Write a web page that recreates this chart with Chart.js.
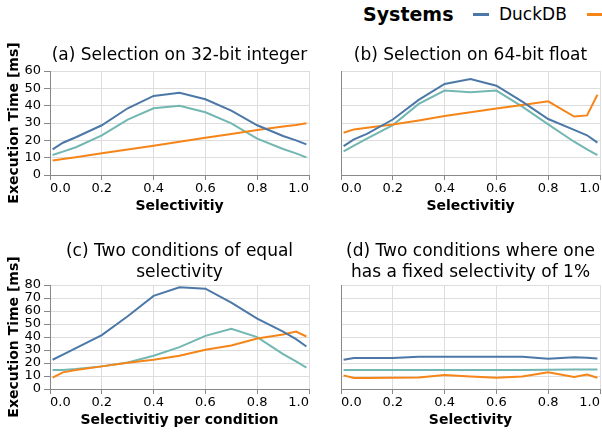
<!DOCTYPE html>
<html>
<head>
<meta charset="utf-8">
<script src="https://cdn.jsdelivr.net/npm/chart.js@4/dist/chart.umd.min.js"></script>
<style>
html, body { margin: 0; padding: 0; background: #fff; overflow: hidden; width: 602px; height: 436px; font-family: "DejaVu Sans", sans-serif; }
canvas { position: absolute; }
.lg { position: absolute; white-space: nowrap; color: #000; }
.sw { position: absolute; height: 3px; width: 16px; }
</style>
</head>
<body>
<div class="lg" style="left:363px; top:0; line-height:29px; font-size:19px; font-weight:bold;">Systems</div>
<div class="sw" style="left:473px; top:13px; background:#4c78a8;"></div>
<div class="lg" style="left:499px; top:0; line-height:29px; font-size:17px;">DuckDB</div>
<div class="sw" style="left:587px; top:13px; background:#f58518;"></div>

<canvas id="a" width="312" height="175" style="left:0; top:40px;"></canvas>
<canvas id="b" width="290" height="175" style="left:312px; top:40px;"></canvas>
<canvas id="c" width="312" height="194" style="left:0; top:235px;"></canvas>
<canvas id="d" width="290" height="194" style="left:312px; top:235px;"></canvas>

<script>
// selectivity values measured on every panel
var selectivity = [0.01, 0.05, 0.1, 0.2, 0.3, 0.4, 0.5, 0.6, 0.7, 0.8, 0.9, 0.95, 0.99];
var xTicks = [0, 0.2, 0.4, 0.6, 0.8, 1.0];
var yTicksTop = [0, 10, 20, 30, 40, 50, 60];
var yTicksBottom = [0, 10, 20, 30, 40, 50, 60, 70, 80];
var systems = ['DuckDB', 'System 2', 'System 3'];
var colors = ['#4c78a8', '#f58518', '#72b7b2'];

// (a) selection on 32-bit integer
var intDuck = [14.8, 18.6, 21.8, 28.7, 38.5, 45.6, 47.5, 43.7, 37.1, 28.7, 22.5, 20.0, 17.7];
var intSys2 = [8.3, 9.2, 10.3, 12.5, 14.7, 16.9, 19.2, 21.5, 23.7, 26.0, 28.0, 28.9, 29.8];
var intSys3 = [11.5, 13.5, 16.0, 22.9, 32.0, 38.5, 40.0, 36.2, 29.8, 21.0, 15.0, 12.5, 10.2];

// (b) selection on 64-bit float
var floatDuck = [16.7, 20.6, 23.7, 32.0, 43.3, 52.5, 55.4, 51.5, 42.3, 32.3, 26.0, 22.9, 18.7];
var floatSys2 = [24.4, 26.3, 27.3, 29.2, 31.5, 34.0, 36.2, 38.3, 40.4, 42.5, 33.7, 34.4, 46.3];
var floatSys3 = [13.7, 17.0, 21.0, 28.8, 41.0, 48.7, 47.7, 48.7, 39.4, 29.2, 19.2, 14.8, 11.5];

// (c) two conditions of equal selectivity
var equalDuck = [22.5, 26.5, 31.5, 41.4, 56.0, 71.6, 78.2, 77.2, 66.5, 54.2, 44.2, 38.3, 32.7];
var equalSys2 = [8.7, 12.8, 14.6, 17.4, 20.2, 22.5, 25.6, 30.2, 33.5, 38.8, 41.9, 44.2, 40.4];
var equalSys3 = [14.6, 14.6, 15.3, 17.4, 20.4, 25.6, 32.2, 40.9, 46.3, 39.9, 26.8, 21.2, 16.4];

// (d) one condition fixed at 1%
var fixedDuck = [22.5, 23.8, 23.8, 23.8, 24.8, 24.8, 24.8, 24.8, 24.8, 23.3, 24.5, 24.0, 23.5];
var fixedSys2 = [10.5, 8.4, 8.4, 8.7, 8.9, 10.7, 9.7, 8.7, 9.7, 12.8, 9.2, 11.2, 8.7];
var fixedSys3 = [14.6, 14.6, 14.6, 14.6, 14.6, 14.6, 14.6, 14.6, 14.6, 14.8, 15.0, 15.0, 15.0];

var FONT = 'DejaVu Sans';

function panel(id, title, xTitle, series, yTicks, showY, titlePad, padRight) {
  new Chart(document.getElementById(id), {
    type: 'line',
    data: {
      datasets: series.map(function (vals, k) {
        return {
          label: systems[k],
          data: selectivity.map(function (x, i) { return { x: x, y: vals[i] }; }),
          borderColor: colors[k],
          backgroundColor: colors[k],
          borderWidth: 2,
          pointRadius: 0,
          tension: 0,
          fill: false
        };
      })
    },
    options: {
      responsive: false,
      animation: false,
      events: [],
      layout: { padding: { left: 0, right: padRight, top: 0, bottom: 0 } },
      plugins: {
        legend: { display: false },
        tooltip: { enabled: false },
        title: {
          display: true, text: title, fullSize: false, color: '#000',
          font: { family: FONT, size: 17, weight: 'normal' },
          padding: titlePad
        }
      },
      scales: {
        x: {
          type: 'linear', min: 0, max: 1,
          afterBuildTicks: function (s) { s.ticks = xTicks.map(function (v) { return { value: v }; }); },
          afterFit: function (s) { s.height = 40; },
          grid: { color: '#ddd', tickColor: '#888', tickLength: 5 },
          border: { color: '#888' },
          ticks: {
            align: 'inner', padding: 1, maxRotation: 0, autoSkip: false, color: '#000',
            font: { family: FONT, size: 13 },
            callback: function (v) { return v.toFixed(1); }
          },
          title: { display: true, text: xTitle, color: '#000', font: { family: FONT, size: 14, weight: 'bold' }, padding: 0 }
        },
        y: {
          min: 0, max: yTicks[yTicks.length - 1],
          afterBuildTicks: function (s) { s.ticks = yTicks.map(function (v) { return { value: v }; }); },
          afterFit: function (s) { s.width = showY ? 50 : 29; },
          grid: { color: '#ddd', tickColor: '#888', tickLength: 6, drawTicks: showY },
          border: { color: '#888' },
          ticks: { display: showY, autoSkip: false, padding: 3, color: '#000', font: { family: FONT, size: 13 } },
          title: {
            display: showY, text: 'Execution Time [ms]', color: '#000',
            font: { family: FONT, size: 14, weight: 'bold' }, padding: { top: 5.6, bottom: 0 }
          }
        }
      }
    }
  });
}

var padTop = { top: 5.8, bottom: 4.8 };
var padBottom = { top: 6.8, bottom: 2.4 };

panel('a', '(a) Selection on 32-bit integer', 'Selectivitiy', [intDuck, intSys2, intSys3], yTicksTop, true, padTop, 3);
panel('b', '(b) Selection on 64-bit float', 'Selectivitiy', [floatDuck, floatSys2, floatSys3], yTicksTop, false, padTop, 2);
panel('c', ['(c) Two conditions of equal', 'selectivity'], 'Selectivitiy per condition', [equalDuck, equalSys2, equalSys3], yTicksBottom, true, padBottom, 3);
panel('d', ['(d) Two conditions where one', 'has a fixed selectivity of 1%'], 'Selectivity', [fixedDuck, fixedSys2, fixedSys3], yTicksBottom, false, padBottom, 2);
</script>
</body>
</html>
